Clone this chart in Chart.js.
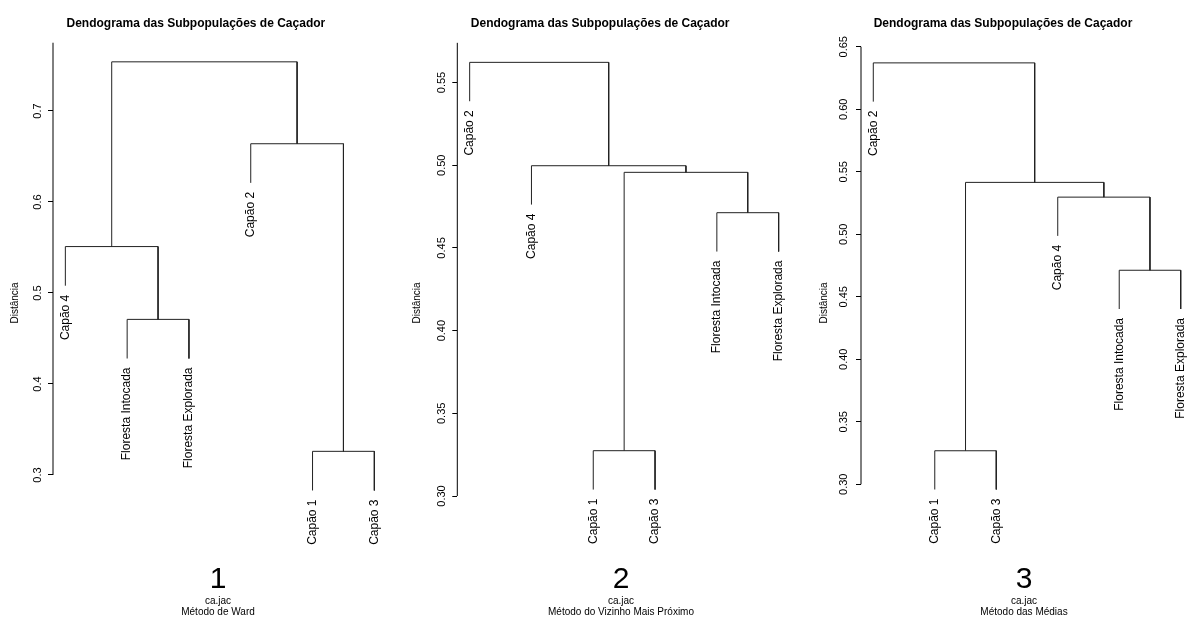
<!DOCTYPE html>
<html lang="pt">
<head>
<meta charset="utf-8">
<title>Dendograma das Subpopulações de Caçador</title>
<script src="https://cdn.jsdelivr.net/npm/chart.js@4.4.1/dist/chart.umd.min.js"></script>
<style>
	html, body { margin: 0; padding: 0; background: #fff; }
	body { width: 1189px; height: 617px; overflow: hidden; position: relative; }
	canvas { position: absolute; top: 0; }
</style>
</head>
<body>
<canvas id="chartWard" width="436" height="617" style="left:0px"></canvas>
<canvas id="chartSingle" width="436" height="617" style="left:403px"></canvas>
<canvas id="chartAverage" width="436" height="617" style="left:806px"></canvas>
<script>
'use strict';

// *** Data ***
// merges: [left, right, height]; negative = leaf position, positive = earlier merge
const wardLeaves = ['Capão 4', 'Floresta Intocada', 'Floresta Explorada', 'Capão 2', 'Capão 1', 'Capão 3'];
const wardMerges = [[-2, -3, 0.471], [-1, 1, 0.551], [-5, -6, 0.326], [-4, 3, 0.664], [2, 4, 0.754]];
const wardHang = 0.043;
const wardTicks = [0.3, 0.4, 0.5, 0.6, 0.7];
const wardTickLabels = ['0.3', '0.4', '0.5', '0.6', '0.7'];
const wardAxisTop = 0.775;
const wardRange = [0.2033, 0.7747];

const singleLeaves = ['Capão 2', 'Capão 4', 'Capão 1', 'Capão 3', 'Floresta Intocada', 'Floresta Explorada'];
const singleMerges = [[-3, -4, 0.3274], [-5, -6, 0.4713], [1, 2, 0.4957], [-2, 3, 0.4997], [-1, 4, 0.5622]];
const singleHang = 0.0235;
const singleTicks = [0.30, 0.35, 0.40, 0.45, 0.50, 0.55];
const singleTickLabels = ['0.30', '0.35', '0.40', '0.45', '0.50', '0.55'];
const singleAxisTop = 0.574;
const singleRange = [0.2595, 0.5739];

const averageLeaves = ['Capão 2', 'Capão 1', 'Capão 3', 'Capão 4', 'Floresta Intocada', 'Floresta Explorada'];
const averageMerges = [[-2, -3, 0.3268], [-5, -6, 0.4712], [-4, 2, 0.5297], [1, 3, 0.5415], [-1, 4, 0.6371]];
const averageHang = 0.031;
const averageTicks = [0.30, 0.35, 0.40, 0.45, 0.50, 0.55, 0.60, 0.65];
const averageTickLabels = ['0.30', '0.35', '0.40', '0.45', '0.50', '0.55', '0.60', '0.65'];
const averageAxisTop = 0.65;
const averageRange = [0.237, 0.653];

const titleText = 'Dendograma das Subpopulações de Caçador';
const yTitleText = 'Distância';
const dataName = 'ca.jac';

const FONT = '"Liberation Sans", Arial, Helvetica, sans-serif';
Chart.defaults.font.family = FONT;
Chart.defaults.color = '#000';

function buildTree(_merges, _hang) {
	const nodes = [];
	const leafEnds = [];
	const segments = [];
	function child(id, h) {
		if (id < 0) {
			leafEnds[-id - 1] = h - _hang;
			return { x: -id, y: h - _hang };
		}
		return nodes[id - 1];
	}
	_merges.forEach(([a, b, h]) => {
		const left = child(a, h);
		const right = child(b, h);
		segments.push([
			{ x: left.x, y: left.y },
			{ x: left.x, y: h },
			{ x: right.x, y: h },
			{ x: right.x, y: right.y },
		]);
		nodes.push({ x: (left.x + right.x) / 2, y: h });
	});
	return { segments, leafEnds };
}

function makeLabelPlugin(_leaves, _leafEnds, _number, _method) {
	return {
		id: 'dendroLabels',
		afterDraw(chart) {
			const { ctx, scales: { x, y } } = chart;
			ctx.save();
			ctx.fillStyle = '#000';
			ctx.font = '12px ' + FONT;
			ctx.textAlign = 'right';
			ctx.textBaseline = 'middle';
			_leaves.forEach((name, i) => {
				ctx.save();
				ctx.translate(x.getPixelForValue(i + 1), y.getPixelForValue(_leafEnds[i]) + 9);
				ctx.rotate(-Math.PI / 2);
				ctx.fillText(name, 0, 0);
				ctx.restore();
			});
			// captions under the plot
			const cx = chart.width / 2;
			ctx.textAlign = 'center';
			ctx.textBaseline = 'alphabetic';
			ctx.font = '30px ' + FONT;
			ctx.fillText(_number, cx, 588);
			ctx.textBaseline = 'middle';
			ctx.font = '10px ' + FONT;
			ctx.fillText(dataName, cx, 601);
			ctx.fillText(_method, cx, 612);
			ctx.restore();
		},
	};
}

function drawDendrogram(p) {
	const tree = buildTree(p.merges, p.hang);
	const lineSets = tree.segments.map((seg) => ({
		data: seg,
		showLine: true,
		borderColor: '#222',
		borderWidth: 1,
		pointRadius: 0,
		tension: 0,
		clip: false,
	}));
	// vertical axis line from lowest tick to the top
	lineSets.push({
		data: [{ x: 0.8, y: p.ticks[0] }, { x: 0.8, y: p.axisTop }],
		showLine: true,
		borderColor: '#000',
		borderWidth: 1,
		pointRadius: 0,
		clip: false,
	});

	return new Chart(document.getElementById(p.id), {
		type: 'scatter',
		data: { datasets: lineSets },
		options: {
			responsive: false,
			animation: false,
			events: [],
			layout: { padding: { left: p.padLeft, right: p.padRight, top: 0, bottom: 54 } },
			plugins: {
				legend: { display: false },
				tooltip: { enabled: false },
				title: {
					display: true,
					text: titleText,
					color: '#000',
					font: { size: 12, weight: 'bold' },
					padding: { top: 16.5, bottom: 12.1 },
				},
			},
			scales: {
				x: {
					type: 'linear',
					min: 0.8,
					max: 6.2,
					display: false,
				},
				y: {
					type: 'linear',
					min: p.range[0],
					max: p.range[1],
					afterBuildTicks: (scale) => {
						scale.ticks = p.ticks.map((v) => ({ value: v }));
					},
					afterFit: (scale) => {
						scale.width = 48;
					},
					border: { display: false },
					grid: {
						display: true,
						drawOnChartArea: false,
						drawTicks: true,
						tickLength: 5,
						color: '#000',
					},
					ticks: {
						autoSkip: false,
						minRotation: 90,
						maxRotation: 90,
						crossAlign: 'center',
						padding: p.tickPad,
						color: '#000',
						font: { size: 11 },
						callback: (v, i) => p.tickLabels[i],
					},
					title: {
						display: true,
						text: yTitleText,
						color: '#000',
						font: { size: 10 },
						padding: { top: p.titlePad, bottom: 0 },
					},
				},
			},
		},
		plugins: [makeLabelPlugin(p.leaves, tree.leafEnds, p.number, p.method)],
	});
}

// *** Entry Point ***
drawDendrogram({
	id: 'chartWard', leaves: wardLeaves, merges: wardMerges, hang: wardHang,
	ticks: wardTicks, tickLabels: wardTickLabels, axisTop: wardAxisTop, range: wardRange,
	number: '1', method: 'Método de Ward',
	padLeft: 5, padRight: 49.3, tickPad: 2.4, titlePad: 4,
});
drawDendrogram({
	id: 'chartSingle', leaves: singleLeaves, merges: singleMerges, hang: singleHang,
	ticks: singleTicks, tickLabels: singleTickLabels, axisTop: singleAxisTop, range: singleRange,
	number: '2', method: 'Método do Vizinho Mais Próximo',
	padLeft: 6.3, padRight: 48, tickPad: 0, titlePad: 2,
});
drawDendrogram({
	id: 'chartAverage', leaves: averageLeaves, merges: averageMerges, hang: averageHang,
	ticks: averageTicks, tickLabels: averageTickLabels, axisTop: averageAxisTop, range: averageRange,
	number: '3', method: 'Método das Médias',
	padLeft: 7, padRight: 49, tickPad: 1.3, titlePad: 5,
});
</script>
</body>
</html>
